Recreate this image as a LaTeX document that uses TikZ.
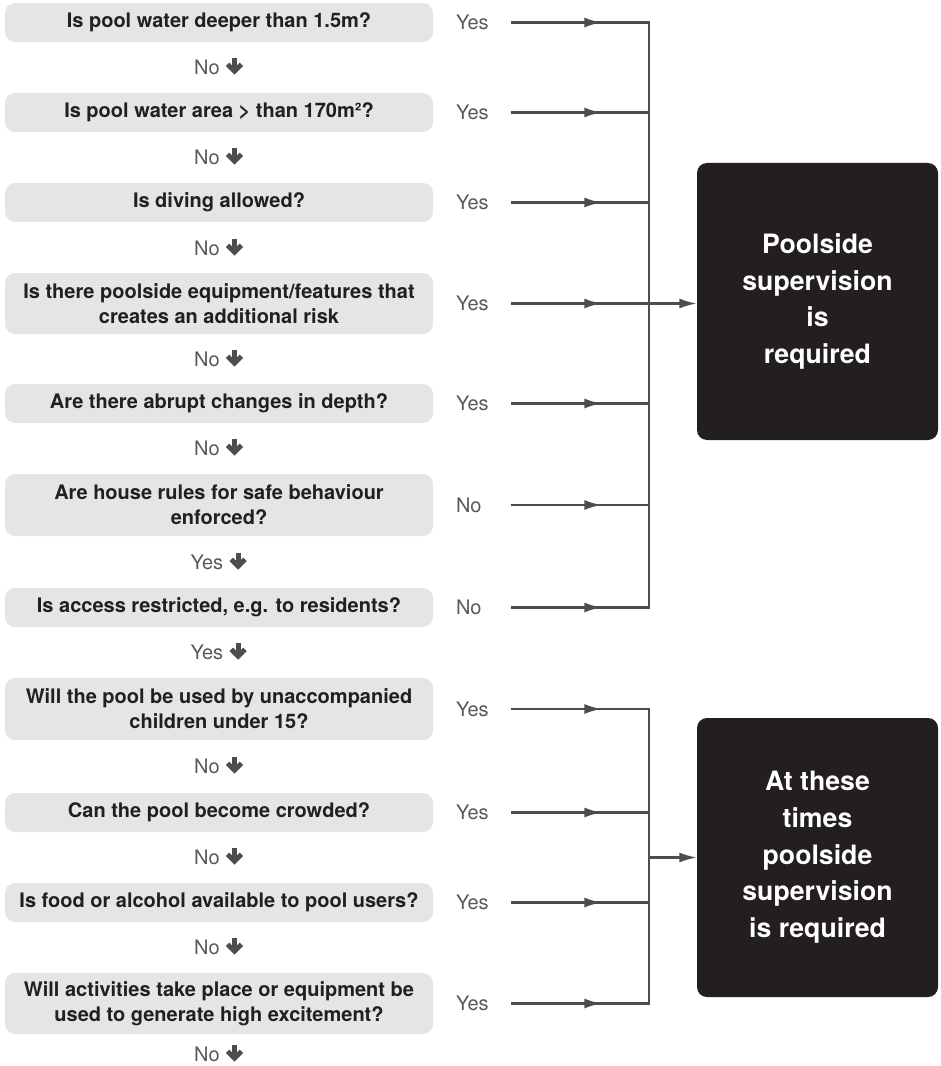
\documentclass[tikz,border=0pt]{standalone}
\usepackage{fontspec}
\setmainfont{TeX Gyre Heros}
\usetikzlibrary{arrows.meta,decorations.markings}

\definecolor{boxgrey}{HTML}{E5E5E6}
\definecolor{inkdark}{HTML}{231F20}
\definecolor{labelgrey}{HTML}{58595B}
\definecolor{linegrey}{HTML}{4D4D4F}

% fat down arrow behind "No" / "Yes"
\newcommand{\dnarrow}{%
  \tikz[baseline=0pt]{
    \draw[linegrey,line width=3.6pt] (0pt,12.6pt) -- (0pt,2.8pt);
    \draw[linegrey,line width=3.6pt,miter limit=4] (-5.2pt,7.6pt) -- (0pt,2.4pt) -- (5.2pt,7.6pt);
  }%
}

% one question row: name, y, height, text, answer
\newcommand{\question}[5]{%
  \node[qbox,minimum height=#3] (#1) at (219,#2) {#4};
  \node[reply] (#1r) at (456,#2) {#5};
  \coordinate (#1j) at (649,#2);
  \draw[yesline] (#1r) -- (#1j);
}

\begin{document}
\begin{tikzpicture}[x=0.75pt,y=-0.75pt,
    qbox/.style={fill=boxgrey,rounded corners=7.5pt,minimum width=321pt,inner sep=0pt,
      align=center,text=inkdark,font=\fontsize{15}{18.75}\selectfont\bfseries},
    reply/.style={anchor=west,inner sep=0pt,outer sep=0pt,text width=41.25pt,align=left,
      text=labelgrey,font=\fontsize{15}{17}\selectfont},
    downlabel/.style={inner sep=0pt,text=labelgrey,font=\fontsize{15}{17}\selectfont},
    okbox/.style={fill=inkdark,rounded corners=7.5pt,minimum width=180.75pt,inner sep=0pt,
      align=center,text=white,font=\fontsize{20}{27.5}\selectfont\bfseries},
    wire/.style={draw=linegrey,line width=1.6pt},
    tip/.style={-{Latex[length=13pt,width=7.5pt]}},
    yesline/.style={wire,postaction={decorate},decoration={markings,
      mark=at position 68pt with {\arrow[linegrey]{Latex[length=13pt,width=7.5pt]}}}},
  ]
  \useasboundingbox (0,0) rectangle (940,1066);

  %%%%%%%%%%%%%%%%%%%%%%%%%%%%%%%%%%%%%%%%%%%%%%%%%%%%%%%%%%%%%%%%%%%%%
  % questions, first group
  \question{q1}{22.5}{29.25pt}{Is pool water deeper than 1.5m?}{Yes}
  \node[downlabel] (d1) at (219,65) {No \dnarrow};
  \question{q2}{112.5}{29.25pt}{Is pool water area > than 170m²?}{Yes}
  \node[downlabel] (d2) at (219,155) {No \dnarrow};
  \question{q3}{202.5}{29.25pt}{Is diving allowed?}{Yes}
  \node[downlabel] (d3) at (219,246) {No \dnarrow};
  \question{q4}{303.5}{45.75pt}{Is there poolside equipment/features that\\creates an additional risk}{Yes}
  \node[downlabel] (d4) at (219,357) {No \dnarrow};
  \question{q5}{403.5}{29.25pt}{Are there abrupt changes in depth?}{Yes}
  \node[downlabel] (d5) at (219,446) {No \dnarrow};
  \question{q6}{505}{46.5pt}{Are house rules for safe behaviour\\enforced?}{No}
  \node[downlabel] (d6) at (219,560) {Yes \dnarrow};
  \question{q7}{607.5}{29.25pt}{Is access restricted, e.g. to residents?}{No}
  \node[downlabel] (d7) at (219,650) {Yes \dnarrow};

  %%%%%%%%%%%%%%%%%%%%%%%%%%%%%%%%%%%%%%%%%%%%%%%%%%%%%%%%%%%%%%%%%%%%%
  % questions, second group
  \question{q8}{709}{46.5pt}{Will the pool be used by unaccompanied\\children under 15?}{Yes}
  \node[downlabel] (d8) at (219,764) {No \dnarrow};
  \question{q9}{812.5}{29.25pt}{Can the pool become crowded?}{Yes}
  \node[downlabel] (d9) at (219,855) {No \dnarrow};
  \question{q10}{902.5}{29.25pt}{Is food or alcohol available to pool users?}{Yes}
  \node[downlabel] (d10) at (219,945) {No \dnarrow};
  \question{q11}{1003.5}{45.75pt}{Will activities take place or equipment be\\used to generate high excitement?}{Yes}
  \node[downlabel] (d11) at (219,1052) {No \dnarrow};

  %%%%%%%%%%%%%%%%%%%%%%%%%%%%%%%%%%%%%%%%%%%%%%%%%%%%%%%%%%%%%%%%%%%%%
  % results
  \node[okbox,minimum height=207.75pt] (ok1) at (817.5,301.5) {Poolside\\supervision\\is\\required};
  \node[okbox,minimum height=209.25pt] (ok2) at (817.5,857.5) {At these\\times\\poolside\\supervision\\is required};

  % collecting lines
  \draw[wire,line cap=rect] (q1j) -- (q7j);
  \draw[wire,tip] (q4j) -- (q4j -| ok1.west);
  \draw[wire,line cap=rect] (q8j) -- (q11j);
  \draw[wire,tip] (ok2.west -| q8j) -- (ok2.west);

\end{tikzpicture}
\end{document}
